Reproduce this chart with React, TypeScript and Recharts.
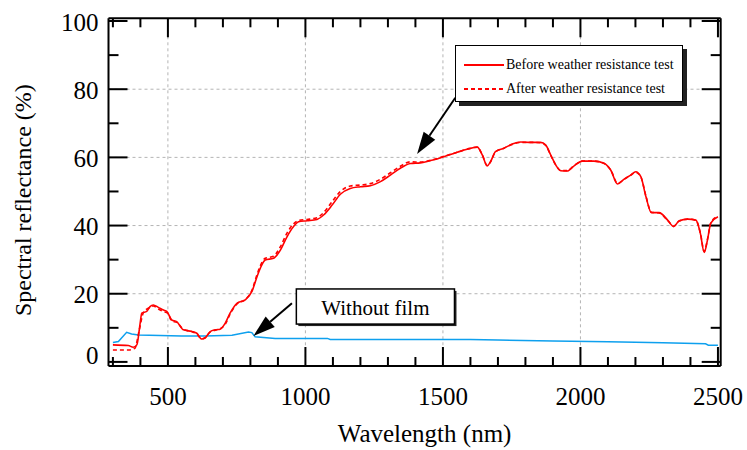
import {
  LineChart, Line, XAxis, YAxis, CartesianGrid, ReferenceLine, ReferenceArea, Legend,
} from "recharts";

const FONT = '"Liberation Serif", "Times New Roman", serif';

const BEFORE = "Before weather resistance test";
const AFTER = "After weather resistance test";
const BARE = "Without film";

// tick values
const xTicks = [300, 400, 500, 600, 700, 800, 900, 1000, 1100, 1200, 1300, 1400, 1500, 1600, 1700, 1800, 1900, 2000, 2100, 2200, 2300, 2400, 2500];
const xLabels = [500, 1000, 1500, 2000, 2500];
const yTicks = [0, 10, 20, 30, 40, 50, 60, 70, 80, 90, 100];
const yLabels = [0, 20, 40, 60, 80, 100];

// before weather resistance test (solid red)
const beforeNm = [300, 356, 374, 387, 399, 405, 423, 435, 447, 465, 484, 496, 514, 532, 556, 587, 605, 623, 635, 654, 672, 690, 708, 726, 751, 781, 805, 824, 836, 854, 884, 909, 933, 957, 975, 1006, 1042, 1066, 1097, 1127, 1163, 1200, 1236, 1273, 1309, 1345, 1382, 1418, 1467, 1503, 1552, 1588, 1625, 1643, 1661, 1673, 1691, 1722, 1752, 1783, 1819, 1855, 1874, 1892, 1910, 1928, 1952, 1977, 2007, 2049, 2086, 2110, 2135, 2159, 2183, 2201, 2220, 2238, 2258, 2286, 2317, 2339, 2359, 2390, 2420, 2436, 2450, 2462, 2474, 2500];
const beforeVal = [5.0, 4.8, 4.3, 5.0, 11.3, 14.3, 14.8, 16.2, 16.7, 16.0, 15.2, 14.8, 12.3, 11.8, 9.4, 8.9, 8.4, 6.7, 7.0, 8.9, 9.4, 9.6, 11.3, 14.3, 17.2, 18.2, 20.6, 25.0, 27.5, 29.9, 30.4, 32.8, 36.7, 39.7, 41.1, 41.4, 41.8, 43.1, 46.0, 49.2, 50.9, 51.4, 51.7, 52.9, 54.8, 56.8, 58.2, 58.4, 59.3, 60.2, 61.5, 62.4, 63.0, 60.7, 57.5, 58.7, 61.7, 62.7, 63.9, 64.5, 64.4, 64.4, 63.6, 60.7, 57.8, 56.1, 56.0, 57.5, 58.9, 58.9, 58.3, 56.3, 52.2, 53.6, 54.8, 55.8, 54.3, 48.5, 43.8, 43.8, 41.6, 39.7, 41.4, 41.9, 41.6, 37.7, 32.1, 35.8, 40.7, 42.6];

// after weather resistance test (dashed red)
const afterNm = [300, 356, 380, 395, 411, 430, 447, 465, 484, 500, 514, 532, 556, 587, 605, 623, 635, 654, 672, 690, 708, 726, 751, 781, 805, 824, 836, 854, 884, 909, 933, 957, 975, 1006, 1042, 1066, 1097, 1127, 1163, 1200, 1236, 1273, 1309, 1345, 1382, 1418, 1467, 1503, 1552, 1588, 1625, 1643, 1661, 1673, 1691, 1722, 1752, 1783, 1819, 1855, 1874, 1892, 1910, 1928, 1952, 1977, 2007, 2049, 2086, 2110, 2135, 2159, 2183, 2201, 2220, 2238, 2258, 2286, 2317, 2339, 2359, 2390, 2420, 2436, 2450, 2462, 2474, 2500];
const afterVal = [3.5, 3.5, 4.0, 9.0, 14.5, 15.8, 16.4, 15.5, 14.8, 14.2, 12.0, 11.6, 9.6, 8.9, 8.2, 6.8, 7.1, 8.8, 9.3, 9.7, 11.0, 14.0, 17.0, 18.3, 20.9, 25.6, 28.2, 30.4, 31.0, 33.8, 37.8, 40.5, 41.5, 41.8, 42.3, 43.8, 47.0, 50.0, 51.6, 51.9, 52.3, 53.6, 55.5, 57.4, 58.7, 58.6, 59.4, 60.3, 61.5, 62.4, 63.0, 60.8, 57.6, 58.7, 61.6, 62.7, 63.8, 64.4, 64.4, 64.3, 63.5, 60.6, 57.8, 56.2, 56.1, 57.6, 58.9, 58.9, 58.2, 56.3, 52.4, 53.6, 54.8, 55.6, 54.2, 48.7, 43.9, 43.7, 41.5, 39.8, 41.3, 41.9, 41.5, 37.9, 32.4, 36.0, 40.8, 42.8];

// without film (blue)
const bareNm = [300, 320, 350, 368, 393, 550, 635, 733, 793, 805, 817, 890, 1000, 1080, 1090, 1300, 1600, 1700, 1900, 2100, 2300, 2455, 2465, 2500];
const bareVal = [5.7, 6.0, 8.7, 8.2, 7.9, 7.6, 7.6, 7.8, 8.8, 8.6, 7.4, 6.9, 6.9, 6.9, 6.6, 6.6, 6.6, 6.4, 6.1, 5.9, 5.6, 5.3, 4.9, 4.9];

const toPts = (nm: number[], v: number[]) => nm.map((x, i) => ({ nm: x, r: v[i] }));
const beforeData = toPts(beforeNm, beforeVal);
const afterData = toPts(afterNm, afterVal);
const bareData = toPts(bareNm, bareVal);

const X_DOMAIN: [number, number] = [284, 2510];
const Y_DOMAIN: [number, number] = [-1.2, 100.8];

const RED = "#ff0000";
const BLUE = "#0ea0ee";
const DASH = "4 3";

// inward tick marks, drawn at both ends of a full-height / full-width reference line
const xTickMarks = (len: number) => (p: any) => {
  const top = Math.min(p.y1, p.y2), bot = Math.max(p.y1, p.y2);
  return (
    <g>
      <line x1={p.x1} x2={p.x1} y1={bot} y2={bot - len} stroke="#000" strokeWidth={2} />
      <line x1={p.x1} x2={p.x1} y1={top} y2={top + len} stroke="#000" strokeWidth={2} />
    </g>
  );
};
const yTickMarks = (len: number) => (p: any) => {
  const l = Math.min(p.x1, p.x2), r = Math.max(p.x1, p.x2);
  return (
    <g>
      <line x1={l} x2={l + len} y1={p.y1} y2={p.y1} stroke="#000" strokeWidth={2} />
      <line x1={r} x2={r - len} y1={p.y1} y2={p.y1} stroke="#000" strokeWidth={2} />
    </g>
  );
};
const XMajor = xTickMarks(19), XMinor = xTickMarks(9);
const YMajor = yTickMarks(19), YMinor = yTickMarks(10);

const BottomLabel = (p: any) => (
  <text x={p.x} y={p.y + 39} textAnchor="middle" fontSize={25} fontFamily={FONT} fill="#000">{p.payload.value}</text>
);

const LeftLabel = (p: any) => {
  const v = p.payload.value;
  return (
    <text x={p.x - 10} y={p.y + (v === 0 ? -7 : 1)} dy="0.35em" textAnchor="end" fontSize={25} fontFamily={FONT} fill="#000">{v}</text>
  );
};

const XTitle = (p: any) => {
  const vb = p.viewBox || {};
  return (
    <text x={vb.x + vb.width / 2 + 10} y={vb.y + 76} textAnchor="middle" fontSize={25} fontFamily={FONT} fill="#000">
      Wavelength (nm)
    </text>
  );
};

const YTitle = (p: any) => {
  const vb = p.viewBox || {};
  const cx = vb.x + 22.5;
  const cy = vb.y + vb.height / 2 + 8;
  return (
    <text x={cx} y={cy} transform={`rotate(-90 ${cx} ${cy})`} textAnchor="middle" dominantBaseline="central" fontSize={24} fontFamily={FONT} fill="#000">
      Spectral reflectance (%)
    </text>
  );
};

const Arrow = (p: any) => {
  const { x1, y1, x2, y2 } = p;
  const dx = x2 - x1, dy = y2 - y1;
  const len = Math.hypot(dx, dy) || 1;
  const ux = dx / len, uy = dy / len;
  const hl = 22, hw = 7;
  const bx = x2 - ux * hl, by = y2 - uy * hl;
  return (
    <g>
      <line x1={x1} y1={y1} x2={bx} y2={by} stroke="#000" strokeWidth={2} />
      <polygon points={`${x2},${y2} ${bx - uy * hw},${by + ux * hw} ${bx + uy * hw},${by - ux * hw}`} fill="#000" />
    </g>
  );
};

const NoteBox = (p: any) => (
  <g>
    <rect x={p.x + 2} y={p.y + 2} width={p.width} height={p.height} fill="#222" />
    <rect x={p.x} y={p.y} width={p.width} height={p.height} fill="#fff" stroke="#000" strokeWidth={1.5} />
    <text x={p.x + p.width / 2} y={p.y + p.height / 2 + 4} textAnchor="middle" dominantBaseline="middle" fontSize={21} fontFamily={FONT} fill="#000">
      {BARE}
    </text>
  </g>
);

const LegendBox = (props: any) => {
  const order = [BEFORE, AFTER];
  const items = (props.payload || [])
    .filter((e: any) => order.includes(e.value))
    .sort((a: any, b: any) => order.indexOf(a.value) - order.indexOf(b.value));
  return (
    <div style={{ position: "relative", width: 226, height: 55, border: "1.5px solid #000", background: "#fff", boxShadow: "4px 4px 0 #222", fontFamily: FONT, fontSize: 14, color: "#000" }}>
      {items.map((e: any, i: number) => (
        <div key={e.value} style={{ position: "absolute", left: 8, top: 11 + i * 24, height: 16, display: "flex", alignItems: "center", whiteSpace: "nowrap" }}>
          <svg width={40} height={4}>
            <line x1={0} x2={40} y1={2} y2={2} stroke={e.color} strokeWidth={2} strokeDasharray={e.value === AFTER ? DASH : undefined} />
          </svg>
          <span style={{ marginLeft: 2, lineHeight: "16px" }}>{e.value}</span>
        </div>
      ))}
    </div>
  );
};

export default function App() {
  return (
    <div style={{ position: "absolute", left: 0, top: 0, width: 747, height: 450, background: "#fff", fontFamily: FONT }}>
      <LineChart width={747} height={450} margin={{ top: 18.3, right: 26.3, bottom: 0, left: 0.5 }}>
        <CartesianGrid stroke="#b4b4b4" strokeDasharray="3 3" horizontalValues={[20, 40, 60, 80]} verticalValues={[500, 1000, 1500, 2000]} />
        <XAxis type="number" dataKey="nm" domain={X_DOMAIN} ticks={xLabels} interval={0} allowDataOverflow
          height={84} tickSize={0} tickMargin={0} tickLine={false} tick={BottomLabel}
          axisLine={{ stroke: "#000", strokeWidth: 2 }} label={XTitle} />
        <YAxis type="number" domain={Y_DOMAIN} ticks={yLabels} interval={0} allowDataOverflow
          width={108} tickSize={0} tickMargin={0} tickLine={false} tick={LeftLabel}
          axisLine={{ stroke: "#000", strokeWidth: 2 }} label={YTitle} />

        {/* top and right frame */}
        <ReferenceLine y={Y_DOMAIN[1]} stroke="#000" strokeWidth={2} ifOverflow="visible" />
        <ReferenceLine x={X_DOMAIN[1]} stroke="#000" strokeWidth={2} ifOverflow="visible" />

        {xTicks.map((v) => (
          <ReferenceLine key={`xt${v}`} x={v} ifOverflow="visible" shape={xLabels.includes(v) ? XMajor : XMinor} />
        ))}
        {yTicks.map((v) => (
          <ReferenceLine key={`yt${v}`} y={v} ifOverflow="visible" shape={yLabels.includes(v) ? YMajor : YMinor} />
        ))}

        <Line data={bareData} dataKey="r" name={BARE} type="linear" stroke={BLUE} strokeWidth={1.5} dot={false} legendType="none" isAnimationActive={false} />
        <Line data={beforeData} dataKey="r" name={BEFORE} type="monotone" stroke={RED} strokeWidth={1.6} dot={false} isAnimationActive={false} />
        <Line data={afterData} dataKey="r" name={AFTER} type="monotone" stroke={RED} strokeWidth={1.6} strokeDasharray={DASH} dot={false} isAnimationActive={false} />

        <ReferenceArea x1={967} x2={1542} y1={11.1} y2={21.4} ifOverflow="visible" shape={NoteBox} />
        <ReferenceLine segment={[{ x: 951, y: 17.2 }, { x: 811, y: 7.6 }]} ifOverflow="visible" shape={Arrow} />
        <ReferenceLine segment={[{ x: 1545, y: 77.5 }, { x: 1406, y: 61.0 }]} ifOverflow="visible" shape={Arrow} />

        <Legend layout="horizontal" align="center" verticalAlign="middle" content={LegendBox}
          wrapperStyle={{ left: 455, top: 45, width: 230, height: 60 }} />
      </LineChart>
    </div>
  );
}
